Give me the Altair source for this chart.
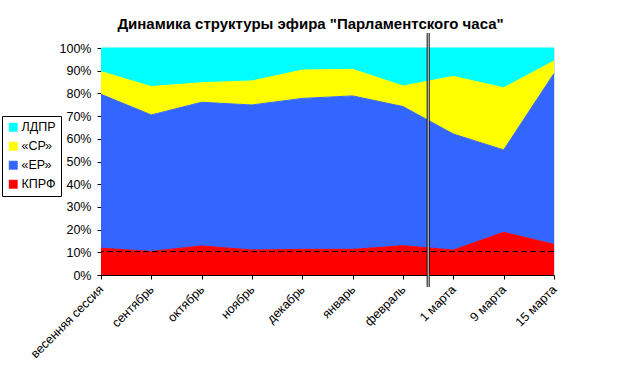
import altair as alt
import pandas as pd

categories = ["весенняя сессия", "сентябрь", "октябрь", "ноябрь", "декабрь",
              "январь", "февраль", "1 марта", "9 марта", "15 марта"]
series = ["КПРФ", "«ЕР»", "«СР»", "ЛДПР"]
kprf = [11.8, 10.4, 12.8, 11.0, 11.3, 11.3, 12.9, 11.0, 18.8, 13.5]
er = [67.8, 60.1, 63.3, 63.9, 66.5, 67.6, 61.3, 51.1, 36.3, 75.3]
sr = [10.0, 12.5, 8.6, 10.6, 12.5, 11.7, 9.1, 25.4, 27.4, 5.5]
ldpr = [10.4, 17.0, 15.3, 14.5, 9.7, 9.4, 16.7, 12.5, 17.5, 5.7]
colors = ["#FF0000", "#3366FF", "#FFFF00", "#00FFFF"]
ref_level = 10.3
divider_at = 6.5

FONT = "Liberation Sans"

rows = []
for si, (name, vals) in enumerate(zip(series, [kprf, er, sr, ldpr])):
    for i, v in enumerate(vals):
        rows.append({"idx": i, "cat": categories[i], "series": name, "ord": si, "value": v})
df = pd.DataFrame(rows)

label_expr = "[" + ",".join('"%s"' % c for c in categories) + "][datum.value]"

x_scale = alt.Scale(domain=[0, len(categories) - 1], nice=False, zero=False)
y_scale = alt.Scale(domain=[0, 100], nice=False)

x_axis = alt.Axis(values=list(range(len(categories))), labelExpr=label_expr,
                  labelAngle=-45, labelAlign="right", labelBaseline="middle",
                  labelPadding=8, title=None, grid=False, domainColor="black",
                  tickColor="black", tickSize=4, labelColor="black",
                  labelFont=FONT, labelFontSize=12.5, labelOverlap=False)
y_axis = alt.Axis(values=list(range(0, 101, 10)), labelExpr="datum.value + '%'",
                  title=None, grid=False, domainColor="black", tickColor="black",
                  tickSize=4, labelColor="black", labelFont=FONT, labelFontSize=12.5,
                  labelPadding=6, labelOverlap=False)

area = alt.Chart(df).mark_area(
    line={"color": "black", "strokeWidth": 1}, opacity=1
).encode(
    x=alt.X("idx:Q", scale=x_scale, axis=x_axis),
    y=alt.Y("value:Q", stack=True, scale=y_scale, axis=y_axis),
    color=alt.Color("series:N",
                    scale=alt.Scale(domain=series, range=colors),
                    sort=series[::-1],
                    legend=alt.Legend(title=None, orient="none", legendX=-99, legendY=68,
                                      values=series[::-1],
                                      symbolType="square", symbolSize=70,
                                      symbolStrokeColor="black", symbolStrokeWidth=0.5,
                                      labelFont=FONT, labelFontSize=12.5, labelColor="black",
                                      strokeColor="black", padding=5, rowPadding=6,
                                      labelOffset=2, fillColor="white")),
    order=alt.Order("ord:Q", sort="ascending"),
)

dash = alt.Chart(pd.DataFrame({"value": [ref_level]})).mark_rule(
    color="black", strokeDash=[6, 3], strokeWidth=1
).encode(y=alt.Y("value:Q", scale=y_scale, axis=y_axis))

div_df = pd.DataFrame({"idx": [divider_at]})
div_black = alt.Chart(div_df).mark_rule(color="black", strokeWidth=3, clip=False).encode(
    x=alt.X("idx:Q", scale=x_scale, axis=x_axis), y=alt.value(-15), y2=alt.value(239))
div_white = alt.Chart(div_df).mark_rule(color="white", strokeWidth=1, clip=False).encode(
    x=alt.X("idx:Q", scale=x_scale, axis=x_axis), y=alt.value(-15), y2=alt.value(239))

chart = alt.layer(area, dash, div_black, div_white).properties(
    width=453, height=227,
    title=alt.TitleParams('Динамика структуры эфира "Парламентского часа"',
                          font=FONT, fontSize=15, fontWeight="bold", color="black",
                          anchor="middle", dx=-17, offset=0),
    autosize=alt.AutoSizeParams(type="none"),
    padding={"left": 101, "top": 48, "right": 69, "bottom": 113},
).configure_view(stroke="black", strokeWidth=1).configure(background="white")

chart.save("out.html", embed_options={"renderer": "svg", "actions": False})
